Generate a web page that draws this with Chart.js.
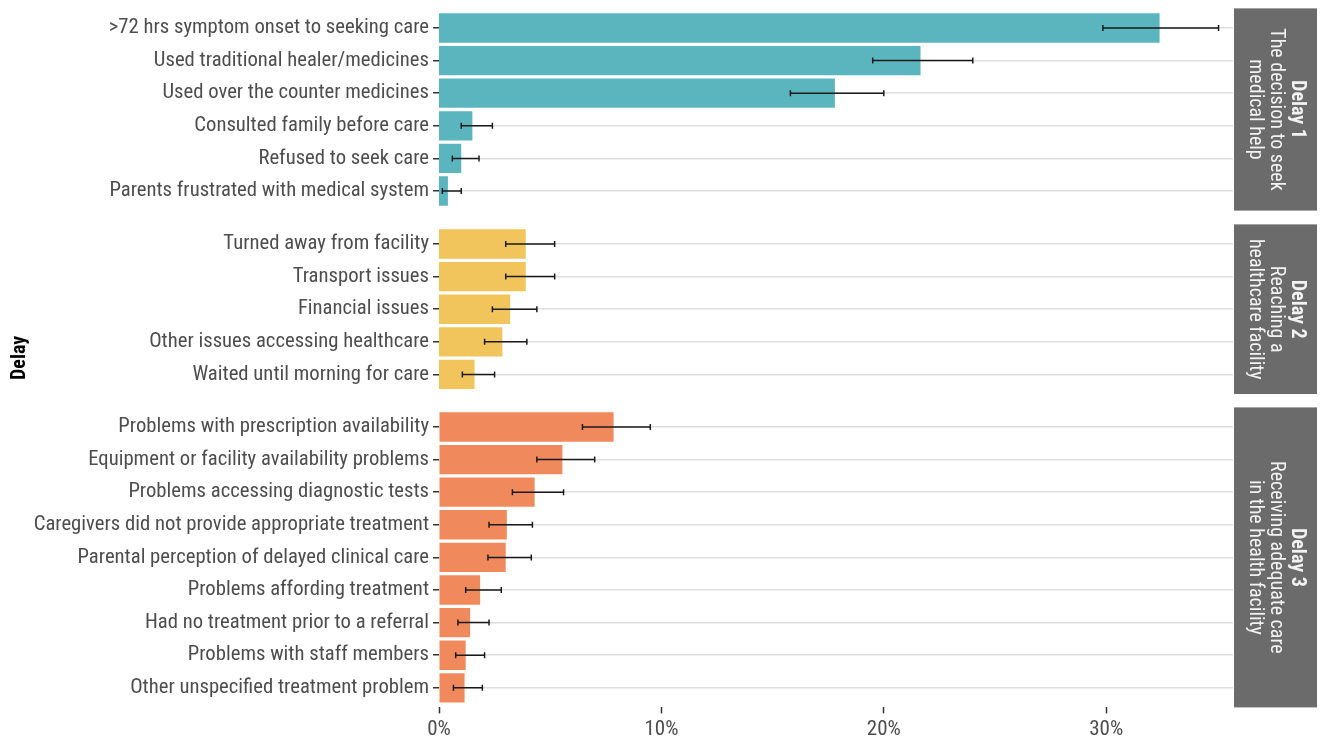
<!DOCTYPE html>
<html>
<head>
<meta charset="utf-8">
<script src="https://cdn.jsdelivr.net/npm/chart.js@4.4.1/dist/chart.umd.min.js"></script>
<style>
    html, body { margin: 0; padding: 0; background: #ffffff; }
    #wrap { position: relative; width: 1322px; height: 738px; }
    #wrap canvas { position: absolute; left: 0; top: 0; }
</style>
</head>
<body>
<div id="wrap">
    <canvas id="delay1" width="1322" height="738"></canvas>
    <canvas id="delay2" width="1322" height="738"></canvas>
    <canvas id="delay3" width="1322" height="738"></canvas>
</div>
<script>
// Delay 1 - the decision to seek medical help
const delay1Labels = [
    '>72 hrs symptom onset to seeking care',
    'Used traditional healer/medicines',
    'Used over the counter medicines',
    'Consulted family before care',
    'Refused to seek care',
    'Parents frustrated with medical system'
];
const delay1Values = [32.4, 21.65, 17.8, 1.5, 1.0, 0.4];
const delay1Low = [29.85, 19.5, 15.8, 1.0, 0.6, 0.15];
const delay1High = [35.05, 24.0, 20.0, 2.4, 1.8, 1.0];

// Delay 2 - reaching a healthcare facility
const delay2Labels = [
    'Turned away from facility',
    'Transport issues',
    'Financial issues',
    'Other issues accessing healthcare',
    'Waited until morning for care'
];
const delay2Values = [3.9, 3.9, 3.2, 2.85, 1.6];
const delay2Low = [3.0, 3.0, 2.4, 2.05, 1.05];
const delay2High = [5.2, 5.2, 4.4, 3.95, 2.5];

// Delay 3 - receiving adequate care in the health facility
const delay3Labels = [
    'Problems with prescription availability',
    'Equipment or facility availability problems',
    'Problems accessing diagnostic tests',
    'Caregivers did not provide appropriate treatment',
    'Parental perception of delayed clinical care',
    'Problems affording treatment',
    'Had no treatment prior to a referral',
    'Problems with staff members',
    'Other unspecified treatment problem'
];
const delay3Values = [7.85, 5.55, 4.3, 3.05, 3.0, 1.85, 1.4, 1.2, 1.15];
const delay3Low = [6.45, 4.4, 3.3, 2.25, 2.2, 1.2, 0.85, 0.75, 0.65];
const delay3High = [9.5, 7.0, 5.6, 4.2, 4.15, 2.8, 2.25, 2.05, 1.95];

const xTicks = [0, 10, 20, 30];
const xMax = 35.7;

const FAMILY = "'Roboto Condensed', 'Liberation Sans Narrow', 'DejaVu Sans Condensed', sans-serif";
const TEXT_GREY = '#4d4d4d';
const STRIP_WIDTH = 83;
const charts = [];

// error bars from the low/high arrays
const errorBars = {
    id: 'errorBars',
    afterDatasetsDraw(chart, args, opts) {
        const ctx = chart.ctx;
        const xs = chart.scales.x;
        const ys = chart.scales.y;
        ctx.save();
        ctx.strokeStyle = '#1a1a1a';
        ctx.lineWidth = 1.5;
        opts.low.forEach((lo, i) => {
            const x1 = xs.getPixelForValue(lo);
            const x2 = xs.getPixelForValue(opts.high[i]);
            const y = ys.getPixelForValue(i);
            ctx.beginPath();
            ctx.moveTo(x1, y); ctx.lineTo(x2, y);
            ctx.moveTo(x1, y - 3); ctx.lineTo(x1, y + 3);
            ctx.moveTo(x2, y - 3); ctx.lineTo(x2, y + 3);
            ctx.stroke();
        });
        ctx.restore();
    }
};

// grey facet strip on the right with rotated text
const facetStrip = {
    id: 'facetStrip',
    afterDraw(chart, args, opts) {
        const ctx = chart.ctx;
        const area = chart.chartArea;
        const left = area.right + 1;
        ctx.save();
        ctx.fillStyle = '#6b6b6b';
        ctx.fillRect(left, area.top, STRIP_WIDTH, area.bottom - area.top);
        ctx.translate(left + STRIP_WIDTH / 2, (area.top + area.bottom) / 2);
        ctx.rotate(Math.PI / 2);
        ctx.fillStyle = '#f2f2f2';
        ctx.textAlign = 'center';
        ctx.textBaseline = 'middle';
        opts.lines.forEach((line, k) => {
            ctx.font = (k === 0 ? '700' : '400') + ' 20px ' + FAMILY;
            ctx.fillText(line, 0, (k - 1) * 21);
        });
        ctx.restore();

        if (opts.axisTitle) {
            const top = charts[0].chartArea.top;
            const mid = (top + area.bottom) / 2;
            ctx.save();
            ctx.translate(20, mid);
            ctx.rotate(-Math.PI / 2);
            ctx.fillStyle = '#000000';
            ctx.textAlign = 'center';
            ctx.textBaseline = 'middle';
            ctx.font = '700 20px ' + FAMILY;
            ctx.fillText(opts.axisTitle, 0, 0);
            ctx.restore();
        }
    }
};

function makePanel(id, labels, values, low, high, color, stripLines, pad, showX, axisTitle) {
    const chart = new Chart(document.getElementById(id).getContext('2d'), {
        type: 'bar',
        data: {
            datasets: [{
                data: values.map((v, i) => ({ x: v, y: i })),
                backgroundColor: color,
                borderWidth: 0,
                barPercentage: 0.9,
                categoryPercentage: 1.0
            }]
        },
        options: {
            indexAxis: 'y',
            responsive: false,
            animation: false,
            events: [],
            layout: { padding: pad },
            plugins: {
                legend: { display: false },
                tooltip: { enabled: false },
                errorBars: { low: low, high: high },
                facetStrip: { lines: stripLines, axisTitle: axisTitle }
            },
            scales: {
                x: {
                    type: 'linear',
                    display: showX,
                    min: 0,
                    max: xMax,
                    afterBuildTicks: (scale) => {
                        scale.ticks = xTicks.map(v => ({ value: v }));
                    },
                    afterFit: (scale) => {
                        if (scale.options.display) scale.height = 30;
                        scale.paddingLeft = 0;
                        scale.paddingRight = 0;
                    },
                    border: { display: false },
                    grid: {
                        drawOnChartArea: false,
                        drawTicks: true,
                        tickLength: 6,
                        tickColor: '#333333',
                        tickWidth: 1.5
                    },
                    ticks: {
                        color: TEXT_GREY,
                        padding: 4,
                        maxRotation: 0,
                        font: { family: FAMILY, size: 21 },
                        callback: (v) => v + '%'
                    }
                },
                y: {
                    type: 'linear',
                    reverse: true,
                    offset: false,
                    min: -0.6,
                    max: labels.length - 0.4,
                    afterBuildTicks: (scale) => {
                        scale.ticks = labels.map((_, i) => ({ value: i }));
                    },
                    afterFit: (scale) => {
                        scale.width = 439;
                        scale.paddingTop = 0;
                        scale.paddingBottom = 0;
                    },
                    border: { display: false },
                    grid: {
                        offset: false,
                        color: '#dedede',
                        lineWidth: 1.5,
                        drawTicks: true,
                        tickLength: 6,
                        tickColor: '#333333',
                        tickWidth: 1.5
                    },
                    ticks: {
                        autoSkip: false,
                        color: TEXT_GREY,
                        padding: 4,
                        font: { family: FAMILY, size: 20.7 },
                        callback: (v) => labels[v]
                    }
                }
            }
        },
        plugins: [errorBars, facetStrip]
    });
    charts.push(chart);
    return chart;
}

makePanel('delay1', delay1Labels, delay1Values, delay1Low, delay1High, '#5bb5bf',
    ['Delay 1', 'The decision to seek', 'medical help'],
    { top: 8.4, bottom: 527.4, left: 0, right: 89 }, false, null);

makePanel('delay2', delay2Labels, delay2Values, delay2Low, delay2High, '#f2c45c',
    ['Delay 2', 'Reaching a', 'healthcare facility'],
    { top: 224.4, bottom: 344, left: 0, right: 89 }, false, null);

makePanel('delay3', delay3Labels, delay3Values, delay3Low, delay3High, '#f08a5d',
    ['Delay 3', 'Receiving adequate care', 'in the health facility'],
    { top: 407.4, bottom: 0.6, left: 0, right: 89 }, true, 'Delay');
</script>
</body>
</html>
